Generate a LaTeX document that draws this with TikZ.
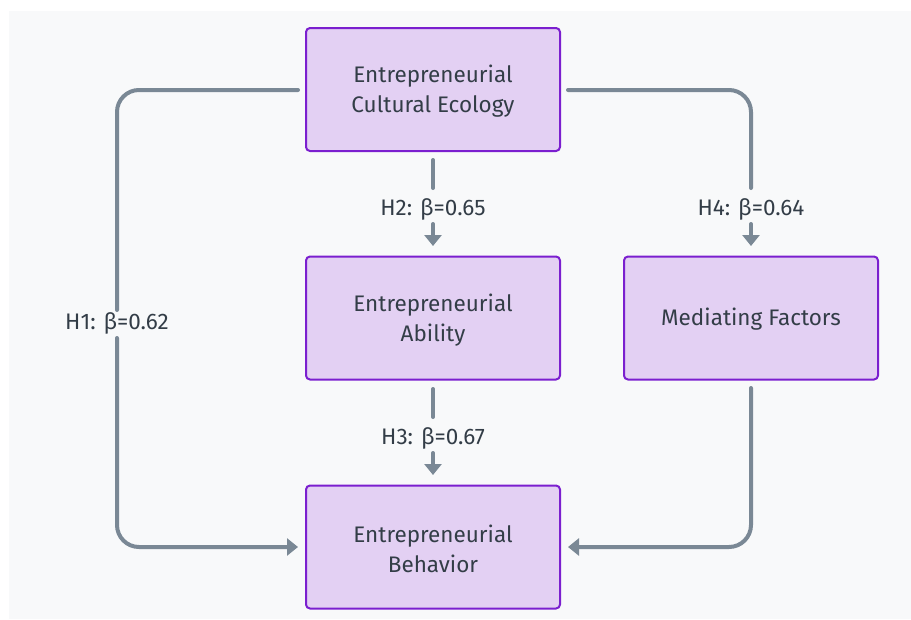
\documentclass[tikz,border=0pt]{standalone}
\usepackage{fontspec}
\setmainfont{Fira Sans}
\usetikzlibrary{arrows.meta}
\definecolor{bgc}{HTML}{F8F9FA}
\definecolor{boxfill}{HTML}{E3D0F3}
\definecolor{boxdraw}{HTML}{7B1FCF}
\definecolor{linec}{HTML}{7A8895}
\definecolor{txtc}{HTML}{333D47}
\tikzset{
  box/.style={draw=boxdraw, fill=boxfill, line width=2pt, rounded corners=4pt,
    minimum width=254pt, minimum height=123pt, inner sep=0pt},
  boxtext/.style={align=center, text=txtc, inner sep=0pt, font=\fontsize{22.5}{30}\selectfont},
  conn/.style={draw=linec, line width=4pt, rounded corners=22pt, line cap=round},
  arr/.style={conn, -{Triangle[length=11pt,width=17pt]}},
  lbl/.style={text=txtc, font=\fontsize{22.5}{24}\selectfont, inner sep=2pt}
}
\begin{document}
\begin{tikzpicture}[x=1pt,y=-1pt]
\useasboundingbox (0,0) rectangle (911,619);
\fill[white] (0,0) rectangle (911,619);
\fill[bgc] (9,11) rectangle (911,619);
\node[box] (ece) at (433,89.5) {};
\node[box] (abi) at (433,318) {};
\node[box] (beh) at (433,547) {};
\node[box] (med) at (751,318) {};
\node[boxtext] (ecet) at ([yshift=-2pt]ece.center) {Entrepreneurial\\Cultural Ecology};
\node[boxtext] (abit) at ([yshift=-2pt]abi.center) {Entrepreneurial\\Ability};
\node[boxtext] (beht) at ([yshift=-2pt]beh.center) {Entrepreneurial\\Behavior};
\node[boxtext] (medt) at ([yshift=-1pt]med.center) {Mediating Factors};
\coordinate (h1a) at (298,90);
\coordinate (h1b) at (298,547);
\coordinate (h4a) at (568,90);
\coordinate (m1) at (751,388);
\coordinate (m2) at (568,547);
% H1
\draw[conn] (h1a) -- (117,90) -- (117,310);
\draw[arr] (117,338) -- (117,547) -- (h1b);
\node[lbl] (l1) at (117,323) {H1: β=0.62};
% H2
\draw[conn] (433,160) -- (433,188);
\draw[arr] (433,224) -- (433,246);
\node[lbl] (l2) at (433,209) {H2: β=0.65};
% H3
\draw[conn] (433,389) -- (433,417);
\draw[arr] (433,453) -- (433,475);
\node[lbl] (l3) at (433,438) {H3: β=0.67};
% H4
\draw[conn] (h4a) -- (751,90) -- (751,188);
\draw[arr] (751,224) -- (751,246);
\node[lbl] (l4) at (751,209) {H4: β=0.64};
% Mediating -> Behavior
\draw[arr] (m1) -- (751,547) -- (m2);
\end{tikzpicture}
\end{document}
